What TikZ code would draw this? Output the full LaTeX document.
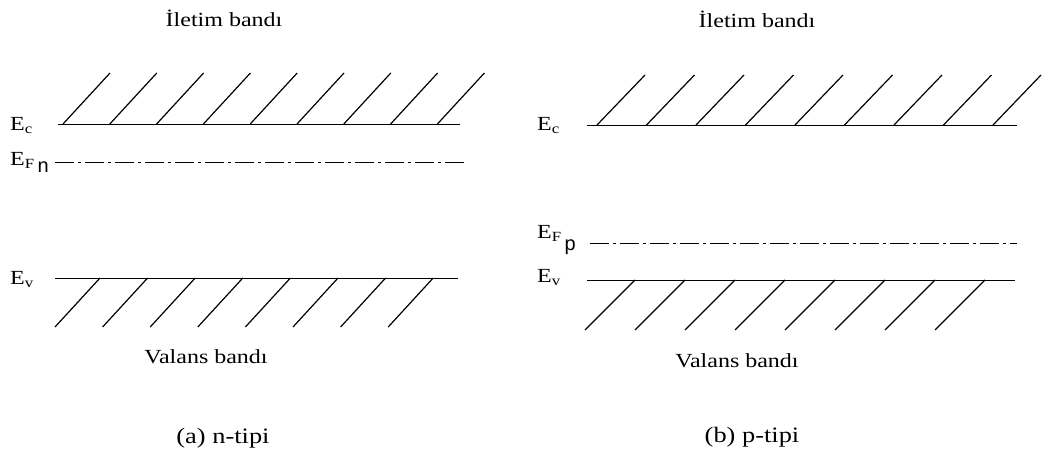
\documentclass[tikz,border=0pt]{standalone}
\usepackage{fontspec}
\setmainfont{Liberation Serif}[FakeStretch=1.2]
\newfontfamily\subfont{Liberation Sans}
\usepackage{tikz}
\usetikzlibrary{positioning,calc}

% energy labels: E with one or two subscripts
\newcommand{\Elev}[1]{E\textsubscript{#1}}
\newcommand{\Efermi}[2]{E\textsubscript{F}\hspace{3pt}\raisebox{-#2}{\subfont\fontsize{20}{20}\selectfont #1}}

\begin{document}
\begin{tikzpicture}[
    x=1pt, y=-1pt,
    level/.style={draw=black, line width=1pt},
    fermi/.style={draw=black, line width=0.9pt, dash pattern=on 19pt off 4pt on 3pt off 4pt},
    hatch/.style={draw=black, line width=1.2pt},
    elabel/.style={anchor=base west, inner sep=0pt, font=\fontsize{20}{22}\selectfont},
    bandlabel/.style={anchor=base, inner sep=0pt, font=\fontsize{20}{24}\selectfont},
    caption/.style={anchor=base, inner sep=0pt, font=\fontsize{22}{26}\selectfont}
]
    \useasboundingbox (0,0) rectangle (1061,453);

    % (a) n-type
    \coordinate (ecA) at (58,124);   \coordinate (ecB) at (460,124);
    \coordinate (efnA) at (55,162);  \coordinate (efnB) at (467,162);
    \coordinate (evA) at (55,278);   \coordinate (evB) at (458,278);
    \draw [level] (ecA) -- (ecB);
    \draw [fermi] (efnA) -- (efnB);
    \draw [level] (evA) -- (evB);
    \foreach \i in {0,...,8}
        \draw [hatch] ($(63,124)+(46.8*\i,0)$) -- ++(47,-51);
    \foreach \i in {0,...,7}
        \draw [hatch] ($(100,278)+(47.6*\i,0)$) -- ++(-45,49);
    \node (ecLabA) [elabel] at (10,130) {\Elev{c}};
    \node (efLabA) [elabel] at (10,165) {\Efermi{n}{7pt}};
    \node (evLabA) [elabel] at (10,284) {\Elev{v}};
    \node (cbA) [bandlabel] at (224,26) {İletim bandı};
    \node (vbA) [bandlabel] at (206,363) {Valans bandı};
    \node (capA) [caption] at (223,443) {(a) n-tipi};

    % (b) p-type
    \coordinate (ecC) at (587,125);  \coordinate (ecD) at (1017,125);
    \coordinate (efpA) at (590,243); \coordinate (efpB) at (1017,243);
    \coordinate (evC) at (587,280);  \coordinate (evD) at (1015,280);
    \draw [level] (ecC) -- (ecD);
    \draw [fermi] (efpA) -- (efpB);
    \draw [level] (evC) -- (evD);
    \foreach \i in {0,...,8}
        \draw [hatch] ($(597,125)+(49.5*\i,0)$) -- ++(48,-50);
    \foreach \i in {0,...,7}
        \draw [hatch] ($(635,280)+(50*\i,0)$) -- ++(-50,50);
    \node (ecLabB) [elabel] at (537,130) {\Elev{c}};
    \node (efLabB) [elabel] at (537,238) {\Efermi{p}{12pt}};
    \node (evLabB) [elabel] at (537,282) {\Elev{v}};
    \node (cbB) [bandlabel] at (757,27) {İletim bandı};
    \node (vbB) [bandlabel] at (737,367) {Valans bandı};
    \node (capB) [caption] at (752,442) {(b) p-tipi};
\end{tikzpicture}
\end{document}
